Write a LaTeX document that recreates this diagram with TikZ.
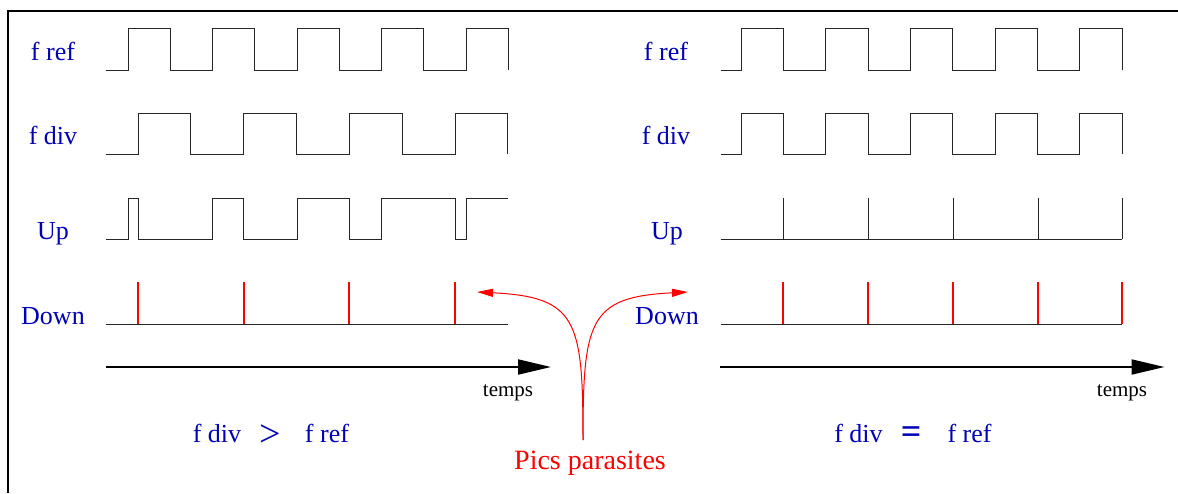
\documentclass[tikz,border=0pt]{standalone}
\usepackage{fontspec}
\setmainfont{Liberation Serif}
\usetikzlibrary{arrows.meta}

\definecolor{sigblue}{RGB}{0,0,180}

\begin{document}
\begin{tikzpicture}[x=0.5pt, y=-0.5pt,
  siglabel/.style={sigblue, font=\rmfamily\fontsize{13}{15}\selectfont},
  wave/.style={line width=0.5pt, black!85},
  spike/.style={line width=0.9pt, red},
  timeaxis/.style={line width=1pt, -{Triangle[length=16.5pt, width=7.5pt]}},
  tlabel/.style={font=\rmfamily\fontsize{10.5}{12}\selectfont},
  parasite/.style={red, line width=0.5pt, -{Triangle[length=8pt, width=4pt]}}]
\useasboundingbox (0,0) rectangle (1178,493);
% Frame (top and left only)
\draw[line width=1pt] (1178,10.5) -- (8,10.5) -- (8,493);
% Signal names
\node[siglabel] (frefL) at (53,51) {f ref};
\node[siglabel] (fdivL) at (53,135) {f div};
\node[siglabel] (upL) at (53,234) {Up};
\node[siglabel] (downL) at (53,316) {Down};
\node[siglabel] (frefR) at (666,51) {f ref};
\node[siglabel] (fdivR) at (666,135) {f div};
\node[siglabel] (upR) at (667,234) {Up};
\node[siglabel] (downR) at (667,316) {Down};
% Left case: f div faster than f ref
\draw[wave] (106,70) \foreach \k in {0,...,4} {
  -- ({128+84.5*\k},70) -- ++(0,-42) -- ++(42.25,0) -- ++(0,42)};
\draw[wave] (106,154) \foreach \k in {0,...,3} {
  -- ({138+105.7*\k},154) -- ++(0,-41) -- ++(52.85,0) -- ++(0,41)};
\draw[wave] (106,239) \foreach \r/\d in {128/138, 212.5/243.7, 297/349.4, 381.5/455.1} {
  -- (\r,239) -- (\r,198) -- (\d,198) -- (\d,239)}
  -- (466,239) -- (466,198) -- (508,198);
\draw[wave] (106,324) -- (508,324);
\foreach \d in {138,244,349,455}
  \draw[spike] (\d,324) -- (\d,282);
% Right case: locked, same frequency
\draw[wave] (720.5,70) \foreach \k in {0,...,4} {
  -- ({741+84.7*\k},70) -- ++(0,-42) -- ++(42.3,0) -- ++(0,42)};
\draw[wave] (720.5,154) \foreach \k in {0,...,4} {
  -- ({741+84.7*\k},154) -- ++(0,-41) -- ++(42.3,0) -- ++(0,41)};
\draw[wave] (720.5,239) -- (1122,239);
\draw[wave] (720.5,324) -- (1122,324);
\foreach \x in {783,868,953,1038,1122} {
  \draw[wave] (\x,239) -- ++(0,-41);
  \draw[spike] (\x,324) -- ++(0,-42);
}
% Time axes
\coordinate (t0L) at (106,367);
\coordinate (t1L) at (551,367);
\coordinate (t0R) at (720,367);
\coordinate (t1R) at (1164.5,367);
\draw[timeaxis] (t0L) -- (t1L);
\draw[timeaxis] (t0R) -- (t1R);
\node[tlabel] (tempsL) at (508,393) {temps};
\node[tlabel] (tempsR) at (1122,393) {temps};
% Frequency comparison
\node[siglabel] (fdivA) at (217,433) {f div};
\node[sigblue, font=\rmfamily\fontsize{19}{20}\selectfont] (gt) at (270,436) {>};
\node[siglabel] (frefA) at (327,433) {f ref};
\node[siglabel] (fdivB) at (858.5,433) {f div};
\node[sigblue, font=\rmfamily\bfseries\fontsize{18}{20}\selectfont] (eq) at (911,435) {=};
\node[siglabel] (frefB) at (969.5,433) {f ref};
% Spurious pulses
\node[red, font=\rmfamily\fontsize{14}{16}\selectfont] (pics) at (590,463) {Pics parasites};
\coordinate (cusp) at (583,440);
\coordinate (tipL) at (477,292);
\coordinate (tipR) at (688,292);
\draw[parasite] (cusp) .. controls (583,320) and (577,297) .. (tipL);
\draw[parasite] (cusp) .. controls (583,320) and (589,297) .. (tipR);
\end{tikzpicture}
\end{document}
